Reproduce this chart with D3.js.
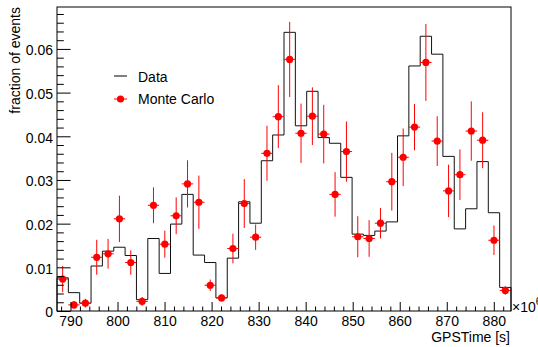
<!DOCTYPE html>
<html>
<head>
<meta charset="utf-8">
<script src="https://cdn.jsdelivr.net/npm/d3@7"></script>
<style>
  html, body { margin: 0; padding: 0; background: #fff; }
  svg { display: block; font-family: "Liberation Sans", Arial, Helvetica, sans-serif; }
</style>
</head>
<body>
<svg id="chart" width="538" height="347"></svg>
<script>
// ---- data (GPS time in units of 10^6 s) ----
const xMin = 787.13;
const xMax = 883.66;
const nBins = 40;

const dataFraction = [
  0.0076, 0.0042, 0.0018, 0.0103, 0.0137, 0.0146, 0.0127, 0.0026, 0.0166, 0.0086,
  0.0199, 0.0267, 0.0128, 0.0111, 0.0030, 0.0121, 0.0250, 0.0201, 0.0344, 0.0403,
  0.0638, 0.0424, 0.0503, 0.0397, 0.0384, 0.0306, 0.0176, 0.0173, 0.0183, 0.0204,
  0.0401, 0.0561, 0.0629, 0.0588, 0.0354, 0.0188, 0.0234, 0.0342, 0.0225, 0.0054
];

const mcFraction = [
  0.0073, 0.0014, 0.0018, 0.0123, 0.0131, 0.0211, 0.0111, 0.0022, 0.0242, 0.0153,
  0.0218, 0.0291, 0.0249, 0.0059, 0.0030, 0.0143, 0.0246, 0.0169, 0.0361, 0.0445,
  0.0576, 0.0407, 0.0446, 0.0405, 0.0267, 0.0365, 0.0170, 0.0166, 0.0201, 0.0296,
  0.0352, 0.0421, 0.0569, 0.0389, 0.0275, 0.0312, 0.0412, 0.0391, 0.0162, 0.0047
];

const mcError = [
  0.0030, 0.0009, 0.0010, 0.0040, 0.0034, 0.0053, 0.0028, 0.0010, 0.0041, 0.0031,
  0.0042, 0.0054, 0.0061, 0.0013, 0.0008, 0.0034, 0.0056, 0.0029, 0.0063, 0.0072,
  0.0086, 0.0068, 0.0066, 0.0067, 0.0051, 0.0069, 0.0047, 0.0042, 0.0035, 0.0066,
  0.0066, 0.0053, 0.0088, 0.0057, 0.0060, 0.0058, 0.0068, 0.0064, 0.0034, 0.0010
];

const xMajorTicks = [790, 800, 810, 820, 830, 840, 850, 860, 870, 880];
const xMinorTicks = [788, 792, 794, 796, 798, 802, 804, 806, 808, 812, 814, 816, 818,
  822, 824, 826, 828, 832, 834, 836, 838, 842, 844, 846, 848, 852, 854, 856, 858,
  862, 864, 866, 868, 872, 874, 876, 878, 882];
const yMajorTicks = [0, 0.01, 0.02, 0.03, 0.04, 0.05, 0.06];
const yTickLabels = ["0", "0.01", "0.02", "0.03", "0.04", "0.05", "0.06"];
const yMinorTicks = [0.002, 0.004, 0.006, 0.008, 0.012, 0.014, 0.016, 0.018,
  0.022, 0.024, 0.026, 0.028, 0.032, 0.034, 0.036, 0.038, 0.042, 0.044, 0.046, 0.048,
  0.052, 0.054, 0.056, 0.058, 0.062, 0.064, 0.066, 0.068];
const yMax = 0.0696;

const xTitle = "GPSTime [s]";
const yTitle = "fraction of events";
const legendLabels = ["Data", "Monte Carlo"];

// ---- layout ----
const L = 57, R = 511, T = 7, B = 311;
const svg = d3.select("#chart");

const x = d3.scaleLinear().domain([xMin, xMax]).range([L, R]);
const y = d3.scaleLinear().domain([0, yMax]).range([B, T]);
const binW = (xMax - xMin) / nBins;
const binLo = i => xMin + i * binW;
const binHi = i => xMin + (i + 1) * binW;
const binC = i => xMin + (i + 0.5) * binW;

// ---- Data histogram (step outline) ----
let path = d3.path();
path.moveTo(x(binLo(0)), y(0));
dataFraction.forEach((v, i) => {
  path.lineTo(x(binLo(i)), y(v));
  path.lineTo(x(binHi(i)), y(v));
});
path.lineTo(x(binHi(nBins - 1)), y(0));
svg.append("path")
  .attr("d", path.toString())
  .attr("fill", "none")
  .attr("stroke", "#111")
  .attr("stroke-width", 1);

// ---- MC points with error bars ----
const mc = svg.append("g").attr("class", "mc");
mcFraction.forEach((v, i) => {
  const cx = x(binC(i)), cy = y(v);
  mc.append("line")
    .attr("x1", x(binLo(i))).attr("x2", x(binHi(i)))
    .attr("y1", cy).attr("y2", cy)
    .attr("stroke", "#ff0000").attr("stroke-width", 1);
  mc.append("line")
    .attr("x1", cx).attr("x2", cx)
    .attr("y1", y(v - mcError[i])).attr("y2", y(v + mcError[i]))
    .attr("stroke", "#ff0000").attr("stroke-width", 1);
  mc.append("circle")
    .attr("cx", cx).attr("cy", cy).attr("r", 3.6)
    .attr("fill", "#ff0000");
});

// ---- Axes ----
const xAxisMajor = d3.axisBottom(x).tickValues(xMajorTicks).tickSize(-9).tickSizeOuter(0).tickPadding(5)
  .tickFormat(d3.format("d"));
const xAxisMinor = d3.axisBottom(x).tickValues(xMinorTicks).tickSize(-4.5).tickSizeOuter(0).tickFormat("");
const yAxisMajor = d3.axisLeft(y).tickValues(yMajorTicks).tickSize(-13.6).tickSizeOuter(0).tickPadding(4)
  .tickFormat((d, i) => yTickLabels[i]);
const yAxisMinor = d3.axisLeft(y).tickValues(yMinorTicks).tickSize(-6.8).tickSizeOuter(0).tickFormat("");

function styleAxis(g) {
  g.select(".domain").remove();
  g.selectAll(".tick line").attr("stroke", "#000").attr("stroke-width", 1);
  g.selectAll(".tick text").attr("fill", "#000").style("font-size", "14px")
    .style("font-family", '"Liberation Sans", Arial, sans-serif');
}
svg.append("g").attr("transform", `translate(0,${B})`).call(xAxisMinor).call(styleAxis);
svg.append("g").attr("transform", `translate(0,${B})`).call(xAxisMajor).call(styleAxis);
svg.append("g").attr("transform", `translate(${L},0)`).call(yAxisMinor).call(styleAxis);
const yg = svg.append("g").attr("transform", `translate(${L},0)`).call(yAxisMajor).call(styleAxis);
yg.selectAll(".tick text").attr("dy", "0.42em");

// ---- Frame ----
svg.append("rect")
  .attr("x", L).attr("y", T).attr("width", R - L).attr("height", B - T)
  .attr("fill", "none").attr("stroke", "#000").attr("stroke-width", 1);

// ---- Titles ----
svg.append("text")
  .attr("x", 510).attr("y", 342)
  .attr("text-anchor", "end")
  .style("font-size", "14px")
  .text(xTitle);

const expo = svg.append("text")
  .attr("x", 512).attr("y", 312)
  .style("font-size", "14px");
expo.append("tspan").text("\u00d710");
expo.append("tspan").attr("dy", -7).style("font-size", "10px").text("6");

svg.append("text")
  .attr("transform", `translate(19.5,${T}) rotate(-90)`)
  .attr("text-anchor", "end")
  .style("font-size", "14px")
  .text(yTitle);

// ---- Legend ----
const lg = svg.append("g");
lg.append("line").attr("x1", 114).attr("x2", 127).attr("y1", 76).attr("y2", 76)
  .attr("stroke", "#000").attr("stroke-width", 1);
lg.append("text").attr("x", 138).attr("y", 81.5).style("font-size", "14px").text(legendLabels[0]);
lg.append("line").attr("x1", 114).attr("x2", 127).attr("y1", 99).attr("y2", 99)
  .attr("stroke", "#ff0000").attr("stroke-width", 1);
lg.append("circle").attr("cx", 120.5).attr("cy", 99).attr("r", 3.6).attr("fill", "#ff0000");
lg.append("text").attr("x", 138).attr("y", 103.5).style("font-size", "14px").text(legendLabels[1]);
</script>
</body>
</html>
